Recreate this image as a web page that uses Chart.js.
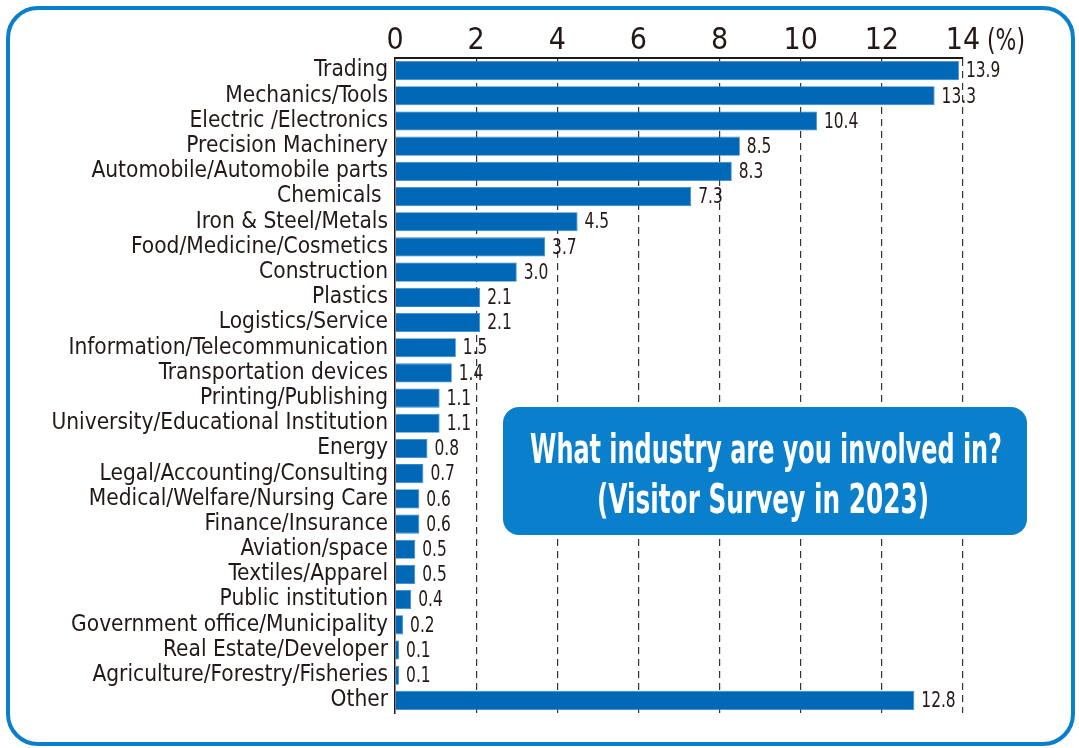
<!DOCTYPE html>
<html>
<head>
<meta charset="utf-8">
<script src="https://cdn.jsdelivr.net/npm/chart.js@4"></script>
<style>
  body { margin: 0; background: #fff; }
  #wrap { position: relative; width: 1079px; height: 748px; }
  #frame { position: absolute; left: 6px; top: 6px; width: 1061px; height: 732px;
           border: 4.5px solid #0a80cc; border-radius: 32px; }
  #myChart { position: absolute; left: 0; top: 0; }
</style>
</head>
<body>
<div id="wrap">
  <div id="frame"></div>
  <canvas id="myChart" width="1079" height="748"></canvas>
</div>
<script>
var categories = [
  "Trading", "Mechanics/Tools", "Electric /Electronics", "Precision Machinery",
  "Automobile/Automobile parts", "Chemicals ", "Iron & Steel/Metals",
  "Food/Medicine/Cosmetics", "Construction", "Plastics", "Logistics/Service",
  "Information/Telecommunication", "Transportation devices", "Printing/Publishing",
  "University/Educational Institution", "Energy", "Legal/Accounting/Consulting",
  "Medical/Welfare/Nursing Care", "Finance/Insurance", "Aviation/space",
  "Textiles/Apparel", "Public institution", "Government office/Municipality",
  "Real Estate/Developer", "Agriculture/Forestry/Fisheries", "Other"
];
var shares = [13.9, 13.3, 10.4, 8.5, 8.3, 7.3, 4.5, 3.7, 3.0, 2.1, 2.1, 1.5, 1.4,
  1.1, 1.1, 0.8, 0.7, 0.6, 0.6, 0.5, 0.5, 0.4, 0.2, 0.1, 0.1, 12.8];
var titleLines = ["What industry are you involved in?", "(Visitor Survey in 2023)"];
var unitLabel = "(%)";

var FONT = "'Liberation Sans Narrow', 'DejaVu Sans Condensed', sans-serif";
var INK = "#231815";

// value labels after each bar, unit label, survey box
var extras = {
    id: 'extras',
    afterDatasetsDraw: function(chart) {
        var ctx = chart.ctx;
        var meta = chart.getDatasetMeta(0);
        ctx.save();
        ctx.fillStyle = INK;
        ctx.font = "22px " + FONT;
        ctx.textAlign = "left";
        ctx.textBaseline = "middle";
        meta.data.forEach(function(bar, i) {
            var txt = shares[i].toFixed(1);
            var w = ctx.measureText(txt).width * 0.78;
            ctx.fillText(txt, bar.x + 7, bar.y + 1, w);
        });
        ctx.restore();
    },
    afterDraw: function(chart) {
        var ctx = chart.ctx;
        var x = chart.scales.x;
        ctx.save();
        ctx.fillStyle = INK;
        ctx.font = "30px " + FONT;
        ctx.textAlign = "left";
        ctx.textBaseline = "alphabetic";
        ctx.fillText(unitLabel, x.getPixelForValue(14) + 24, 50, 38);

        // survey box
        var bx = 503, by = 407, bw = 524, bh = 128, r = 16;
        ctx.fillStyle = "#0a80cc";
        ctx.beginPath();
        ctx.roundRect(bx, by, bw, bh, r);
        ctx.fill();
        ctx.fillStyle = "#fff";
        ctx.textAlign = "center";
        ctx.font = "bold 40px " + FONT;
        ctx.fillText(titleLines[0], 766, 463, 472);
        ctx.fillText(titleLines[1], 763, 513, 332);
        ctx.restore();
    }
};

var ctx = document.getElementById("myChart");
var myChart = new Chart(ctx, {
    type: 'bar',
    data: {
        labels: categories,
        datasets: [{
            data: shares,
            backgroundColor: '#0068b7',
            borderColor: '#2f86c9',
            borderWidth: 0.8,
            barPercentage: 0.76,
            categoryPercentage: 1
        }]
    },
    plugins: [extras],
    options: {
        indexAxis: 'y',
        responsive: false,
        animation: false,
        layout: { padding: { left: 0, right: 116, top: 0, bottom: 35 } },
        plugins: { legend: { display: false }, tooltip: { enabled: false } },
        scales: {
            x: {
                position: 'top',
                min: 0,
                max: 14,
                afterFit: function(scale) { scale.height = 58; },
                ticks: { stepSize: 2, color: INK, font: { family: FONT, size: 30 }, padding: -1 },
                grid: {
                    drawTicks: false,
                    color: function(c) { return c.tick && c.tick.value === 0 ? 'rgba(0,0,0,0)' : '#333'; },
                    lineWidth: 1.2
                },
                border: { display: true, color: INK, width: 2, dash: [7, 5] }
            },
            y: {
                afterFit: function(scale) { scale.width = 395; },
                ticks: { color: INK, font: { family: FONT, size: 22.5 }, padding: 7, autoSkip: false },
                grid: { display: false, drawTicks: false },
                border: { display: true, color: INK, width: 1.5 }
            }
        }
    }
});
</script>
</body>
</html>
